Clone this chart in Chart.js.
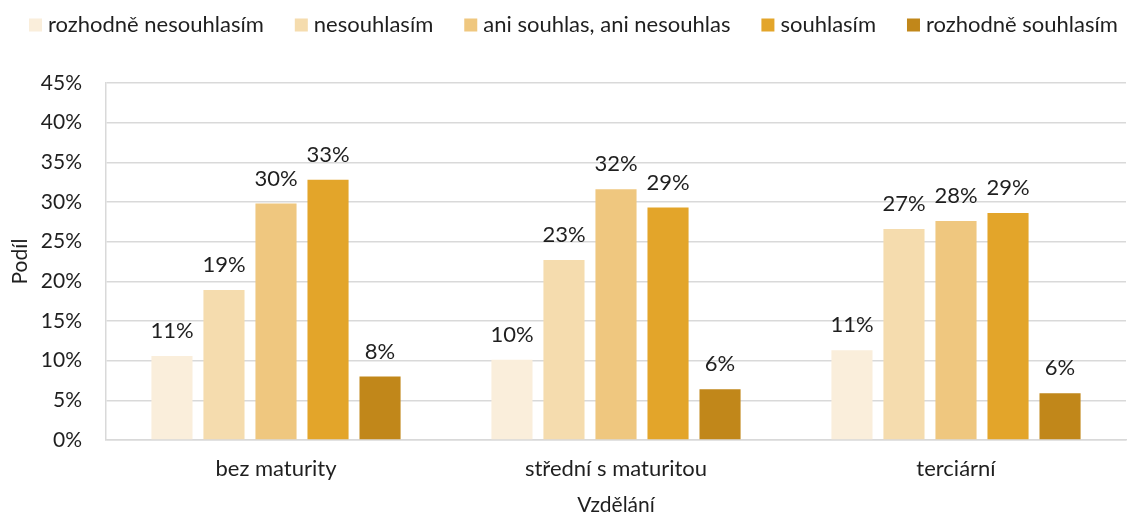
<!DOCTYPE html>
<html lang="cs">
<head>
<meta charset="utf-8">
<script src="https://cdn.jsdelivr.net/npm/chart.js@4/dist/chart.umd.min.js"></script>
<style>
  html, body { margin: 0; padding: 0; background: #fff; }
  #wrap { width: 1136px; height: 518px; position: relative; }
</style>
</head>
<body>
<div id="wrap"><canvas id="c" width="1136" height="518"></canvas></div>
<script>
// Vzdělání (kategorie na ose x)
const categories = ['bez maturity', 'střední s maturitou', 'terciární'];

// Odpovědi na škále souhlasu
const seriesNames = ['rozhodně nesouhlasím', 'nesouhlasím', 'ani souhlas, ani nesouhlas', 'souhlasím', 'rozhodně souhlasím'];

// Podíl odpovědí v procentech, pořadí podle kategorií
const rozhodneNesouhlasim = [10.6, 10.1, 11.3];
const nesouhlasim        = [18.9, 22.7, 26.6];
const aniSouhlas         = [29.8, 31.6, 27.6];
const souhlasim          = [32.8, 29.3, 28.6];
const rozhodneSouhlasim  = [8.0, 6.4, 5.9];

// Popisky osy y
const yTicks = [0, 5, 10, 15, 20, 25, 30, 35, 40, 45];

const colors = ['#FAEEDB', '#F5DCAE', '#EFC77F', '#E3A52A', '#C1871A'];
const seriesValues = [rozhodneNesouhlasim, nesouhlasim, aniSouhlas, souhlasim, rozhodneSouhlasim];

const FONT = 'Lato, "Open Sans", sans-serif';
const FS = 22;
const FS_AXIS = 21;
const TEXT = '#1f1f1f';

// Hodnoty nad sloupci, zaokrouhlené na celá procenta
const valueLabels = {
  id: 'valueLabels',
  afterDatasetsDraw(chart) {
    const ctx = chart.ctx;
    ctx.save();
    ctx.font = FS + 'px ' + FONT;
    ctx.fillStyle = TEXT;
    ctx.textAlign = 'center';
    ctx.textBaseline = 'middle';
    chart.data.datasets.forEach((ds, i) => {
      const meta = chart.getDatasetMeta(i);
      meta.data.forEach((bar, j) => {
        ctx.fillText(Math.round(ds.data[j]) + '%', bar.x, bar.y - 25);
      });
    });
    ctx.restore();
  }
};

// Legenda v jednom řádku nahoře: čtverec barvy a název řady
const topLegend = {
  id: 'topLegend',
  afterDraw(chart) {
    const ctx = chart.ctx;
    ctx.save();
    ctx.font = FS + 'px ' + FONT;
    ctx.textBaseline = 'middle';
    ctx.textAlign = 'left';
    let x = 29;
    const y = 25;
    chart.data.datasets.forEach(ds => {
      ctx.fillStyle = ds.backgroundColor;
      ctx.fillRect(x, y - 6.5, 13, 13);
      ctx.fillStyle = TEXT;
      ctx.fillText(ds.label, x + 19, y);
      x += 19 + ctx.measureText(ds.label).width + 31;
    });
    ctx.restore();
  }
};

new Chart(document.getElementById('c'), {
  type: 'bar',
  data: {
    labels: categories,
    datasets: seriesNames.map((name, i) => ({
      label: name,
      data: seriesValues[i],
      backgroundColor: colors[i],
      categoryPercentage: 0.765,
      barPercentage: 0.79
    }))
  },
  options: {
    responsive: false,
    animation: false,
    layout: { padding: { left: 8, right: 10, top: 83, bottom: 0 } },
    plugins: {
      legend: { display: false },
      tooltip: { enabled: false }
    },
    scales: {
      x: {
        afterFit(axis) { axis.height = 78; },
        grid: { display: false, drawTicks: false },
        border: { display: true, color: '#d9d9d9', width: 1.5 },
        ticks: { color: TEXT, padding: 16, font: { family: FONT, size: FS } },
        title: { display: true, text: 'Vzdělání', color: TEXT, padding: { top: 10, bottom: 0 }, font: { family: FONT, size: FS_AXIS } }
      },
      y: {
        min: 0,
        max: 45,
        afterFit(axis) { axis.width = 98; },
        afterBuildTicks(axis) { axis.ticks = yTicks.map(v => ({ value: v })); },
        grid: { color: '#d9d9d9', lineWidth: 1.5, drawTicks: false },
        border: { display: true, color: '#d9d9d9', width: 1.5 },
        ticks: { color: TEXT, padding: 24, font: { family: FONT, size: FS_AXIS }, callback: v => v + '%' },
        title: { display: true, text: 'Podíl', color: TEXT, padding: { top: 0, bottom: 8 }, font: { family: FONT, size: FS_AXIS } }
      }
    }
  },
  plugins: [valueLabels, topLegend]
});
</script>
</body>
</html>
